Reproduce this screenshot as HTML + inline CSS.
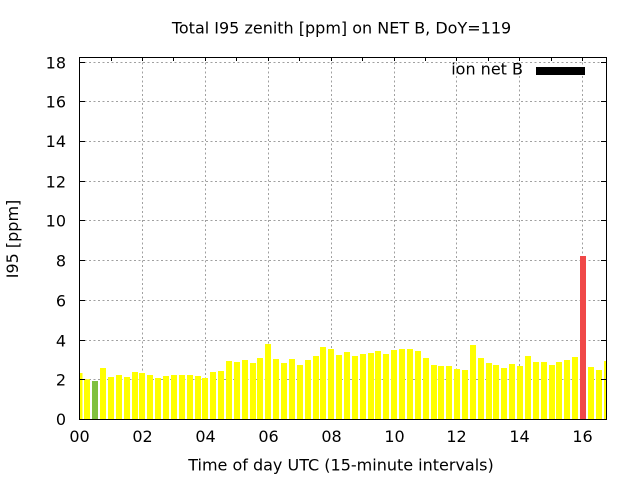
<!DOCTYPE html>
<html>
<head>
<meta charset="utf-8">
<style>
html,body{margin:0;padding:0;background:#fff;}
svg{display:block;}
text{font-family:"DejaVu Sans","Liberation Sans",sans-serif;font-size:16px;fill:#000;}
</style>
</head>
<body>
<svg width="640" height="480" viewBox="0 0 640 480" xmlns="http://www.w3.org/2000/svg">
<rect x="0" y="0" width="640" height="480" fill="#fff"/>
<path stroke="#a0a0a0" stroke-width="1" stroke-dasharray="2,2.5" fill="none" d="M80 379.5H606M80 340.5H606M80 300.5H606M80 260.5H606M80 220.5H606M80 181.5H606M80 141.5H606M80 101.5H606M80 62.5H606M142.5 58V419M205.5 58V419M268.5 58V419M331.5 58V419M394.5 58V419M456.5 58V419M519.5 58V419M582.5 58V419"/>
<path fill="#ffff00" d="M80 373h2.5V419H80zM84 379.3h6V419h-6zM100 368h6V419h-6zM108 377h6V419h-6zM116 375h6V419h-6zM124 377h6V419h-6zM132 372h6V419h-6zM139 373h6V419h-6zM147 375h6V419h-6zM155 378h6V419h-6zM163 376h6V419h-6zM171 375h6V419h-6zM179 375h6V419h-6zM187 375h6V419h-6zM195 376h6V419h-6zM202 378h6V419h-6zM210 372h6V419h-6zM218 371h6V419h-6zM226 361h6V419h-6zM234 362h6V419h-6zM242 360h6V419h-6zM250 363h6V419h-6zM257 358h6V419h-6zM265 344h6V419h-6zM273 359h6V419h-6zM281 363h6V419h-6zM289 359h6V419h-6zM297 365h6V419h-6zM305 360h6V419h-6zM313 356h6V419h-6zM320 347h6V419h-6zM328 349h6V419h-6zM336 355h6V419h-6zM344 352h6V419h-6zM352 356h6V419h-6zM360 354h6V419h-6zM368 353h6V419h-6zM375 351h6V419h-6zM383 354h6V419h-6zM391 350h6V419h-6zM399 349h6V419h-6zM407 349h6V419h-6zM415 351h6V419h-6zM423 358h6V419h-6zM431 365h6V419h-6zM438 366h6V419h-6zM446 366h6V419h-6zM454 369h6V419h-6zM462 370h6V419h-6zM470 345h6V419h-6zM478 358h6V419h-6zM486 363h6V419h-6zM493 365h6V419h-6zM501 368h6V419h-6zM509 364h6V419h-6zM517 366h6V419h-6zM525 356h6V419h-6zM533 362h6V419h-6zM541 362h6V419h-6zM549 365h6V419h-6zM556 362h6V419h-6zM564 360h6V419h-6zM572 357h6V419h-6zM588 367h6V419h-6zM596 370h6V419h-6zM604 361h2.5V419H604z"/>
<rect x="92" y="381" width="6" height="38" fill="#80c040"/>
<rect x="580" y="256" width="6" height="163" fill="#f04848"/>
<path stroke="#000" stroke-width="1" fill="none" d="M80 379.5h5M601 379.5h5M80 340.5h5M601 340.5h5M80 300.5h5M601 300.5h5M80 260.5h5M601 260.5h5M80 220.5h5M601 220.5h5M80 181.5h5M601 181.5h5M80 141.5h5M601 141.5h5M80 101.5h5M601 101.5h5M80 62.5h5M601 62.5h5M111.5 58v3M142.5 58v3M173.5 58v3M205.5 58v3M236.5 58v3M268.5 58v3M299.5 58v3M331.5 58v3M362.5 58v3M394.5 58v3M425.5 58v3M456.5 58v3M488.5 58v3M519.5 58v3M551.5 58v3M582.5 58v3"/>
<rect x="79.5" y="57.5" width="527" height="362" fill="none" stroke="#000" stroke-width="1"/>
<text x="523" y="74.5" text-anchor="end">ion net B</text>
<rect x="536" y="67" width="49" height="8" fill="#000"/>
<g text-anchor="end">
<text x="66" y="425">0</text>
<text x="66" y="385.5">2</text>
<text x="66" y="346.5">4</text>
<text x="66" y="306.5">6</text>
<text x="66" y="266.5">8</text>
<text x="66" y="226.5">10</text>
<text x="66" y="187.5">12</text>
<text x="66" y="147">14</text>
<text x="66" y="107.5">16</text>
<text x="66" y="68.5">18</text>
</g>
<g text-anchor="middle">
<text x="79.5" y="442">00</text>
<text x="142.5" y="442">02</text>
<text x="205.5" y="442">04</text>
<text x="268.5" y="442">06</text>
<text x="331.5" y="442">08</text>
<text x="394.5" y="442">10</text>
<text x="456.5" y="442">12</text>
<text x="519.5" y="442">14</text>
<text x="582.5" y="442">16</text>
</g>
<text x="341.5" y="33.5" text-anchor="middle">Total I95 zenith [ppm] on NET B, DoY=119</text>
<text x="341" y="470.5" text-anchor="middle">Time of day UTC (15-minute intervals)</text>
<text x="0" y="0" text-anchor="middle" transform="translate(18,239) rotate(-90)">I95 [ppm]</text>
</svg>
</body>
</html>
